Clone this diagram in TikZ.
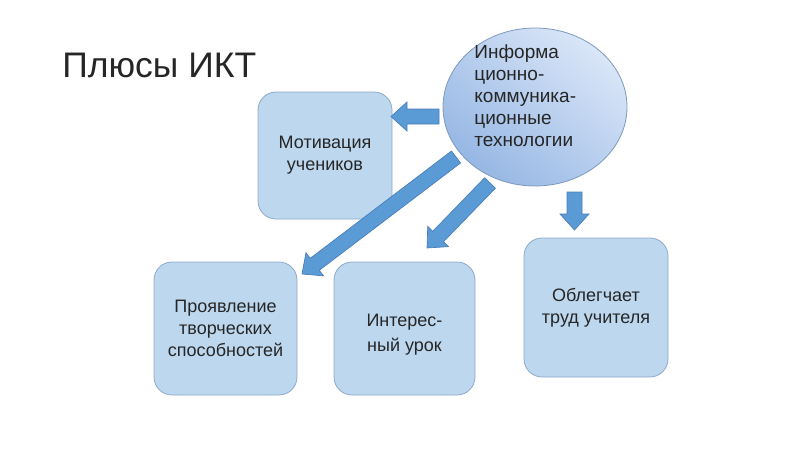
\documentclass[tikz,border=0pt]{standalone}
\usepackage{fontspec}
\setmainfont{Liberation Sans}
\usetikzlibrary{calc,shapes.geometric}
\definecolor{boxfill}{HTML}{BDD7EE}
\definecolor{boxline}{HTML}{8EA9C9}
\definecolor{arrfill}{HTML}{5B9BD5}
\definecolor{arrline}{HTML}{4A7EBB}
\definecolor{ellhi}{HTML}{DAE6F8}
\definecolor{ello}{HTML}{96B7E4}
\definecolor{ellline}{HTML}{7F99BA}
\definecolor{txt}{HTML}{262626}
\newcommand\blockarrow[2]{%
  \path[arrowbody] let \p1=($(#2)-(#1)$), \n1={atan2(\y1,\x1)}, \n2={veclen(\x1,\y1)} in
    [shift={(#1)},rotate=\n1] (0pt,-7.5pt) -- (\n2-16pt,-7.5pt) -- (\n2-16pt,-14.5pt) -- (\n2,0pt)
    -- (\n2-16pt,14.5pt) -- (\n2-16pt,7.5pt) -- (0pt,7.5pt) -- cycle;}

\begin{document}
\begin{tikzpicture}[x=1pt,y=-1pt,line width=.8pt,
  box/.style={draw=boxline,fill=boxfill,rounded corners=18pt,align=center,text=txt,
    font=\fontsize{18}{22}\selectfont},
  arrowbody/.style={draw=arrline,fill=arrfill,line width=.7pt}]
\useasboundingbox (0,0) rectangle (800,450);
\node[anchor=base west,inner sep=0,text=txt,font=\fontsize{35.5}{38}\selectfont] (title) at (62,77) {Плюсы ИКТ};
\node[ellipse,draw=ellline,top color=ellhi,bottom color=ello,shading angle=-40,
  minimum width=184pt,minimum height=158pt] (ikt) at (535,107) {};
\node[anchor=west,inner sep=0,align=left,text=txt,font=\fontsize{19}{22}\selectfont] (iktlabel) at (474,96)
  {Информа\\ционно-\\коммуника-\\ционные\\технологии};
\node[box,minimum width=134pt,minimum height=127pt] (motiv) at (325,155.5) {Мотивация\\учеников};
\node[box,minimum width=143pt,minimum height=133pt] (tvor) at (225.5,328.5) {Проявление\\творческих\\способностей};
\node[box,minimum width=141pt,minimum height=133pt,font=\fontsize{18}{25}\selectfont] (urok) at (404.5,328.5)
  {\rule{0pt}{25pt}Интерес-\\ный урок};
\node[box,minimum width=144pt,minimum height=139pt] (trud) at (596,307.5) {Облегчает\\труд учителя};
\coordinate (ikt-w) at (439,116.5);
\coordinate (ikt-s) at (574.5,192);
\coordinate (ikt-sw) at (456,157);
\coordinate (ikt-ssw) at (490,183);
\coordinate (motiv-e) at (391,116.5);
\coordinate (trud-n) at (574.5,230);
\coordinate (tvor-ne) at (302,274);
\coordinate (urok-n) at (427,248);
\blockarrow{ikt-w}{motiv-e}
\blockarrow{ikt-s}{trud-n}
\blockarrow{ikt-sw}{tvor-ne}
\blockarrow{ikt-ssw}{urok-n}
\end{tikzpicture}
\end{document}
